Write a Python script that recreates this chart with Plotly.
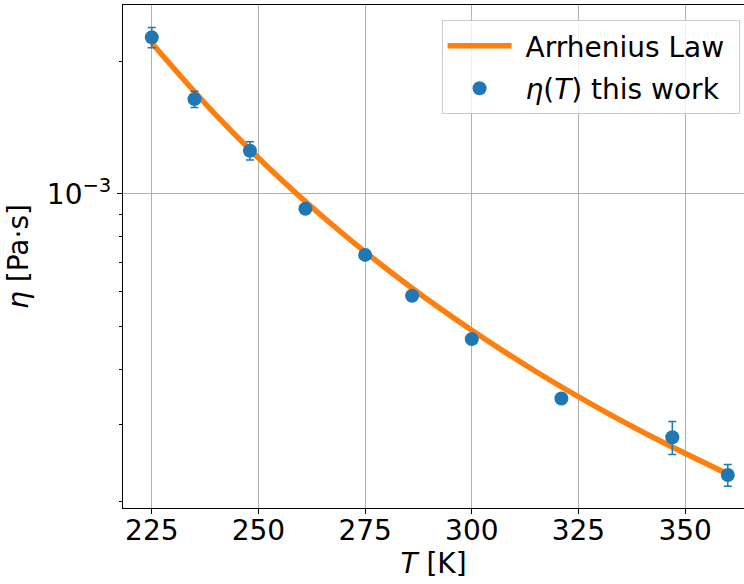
import plotly.graph_objects as go

# measured data
T_data = [225, 235, 248, 261, 275, 286, 300, 321, 347, 360]
eta_data = [2.270e-3, 1.643e-3, 1.254e-3, 9.26e-4, 7.27e-4, 5.87e-4, 4.68e-4, 3.43e-4, 2.80e-4, 2.298e-4]
eta_err = [1.2e-4, 7e-5, 6e-5, 2e-5, 1.5e-5, 1e-5, 1e-5, 8e-6, 2.4e-5, 1.3e-5]

# Arrhenius law curve
T_fit = [225, 240, 255, 270, 285, 300, 315, 330, 345, 360]
eta_fit = [2.204e-3, 1.513e-3, 1.086e-3, 8.09e-4, 6.21e-4, 4.90e-4, 3.95e-4, 3.25e-4, 2.72e-4, 2.31e-4]

x_ticks = [225, 250, 275, 300, 325, 350]
y_major = [1e-3]
y_major_text = ["10<sup>−3</sup>"]
y_minor = [2e-4, 3e-4, 4e-4, 5e-4, 6e-4, 7e-4, 8e-4, 9e-4, 2e-3]

BLUE = "#1f77b4"
ORANGE = "#ff7f0e"
FONT = "DejaVu Sans"
FS = 28
NB = "\u00a0"

fig = go.Figure()
fig.add_trace(go.Scatter(
    x=T_fit, y=eta_fit, mode="lines", name=NB + "Arrhenius Law" + NB,
    legendgroup="a",
    line=dict(color=ORANGE, width=5.5, shape="spline"),
))
fig.add_trace(go.Scatter(
    x=T_data, y=eta_data, mode="markers", name=NB + "<i>η</i>(<i>T</i>) this work",
    legendgroup="b",
    marker=dict(color=BLUE, size=14),
    error_y=dict(type="data", array=eta_err, visible=True, color=BLUE, thickness=1.5, width=4),
))

fig.update_layout(
    width=744, height=584,
    margin=dict(l=123, r=0, t=5, b=76, autoexpand=False),
    paper_bgcolor="white", plot_bgcolor="white",
    font=dict(family=FONT, size=FS, color="black"),
    showlegend=True,
    legend=dict(
        x=0.513, y=0.97, xanchor="left", yanchor="top",
        bgcolor="rgba(255,255,255,0.8)", bordercolor="#cccccc", borderwidth=1,
        font=dict(family=FONT, size=FS, color="black"),
        itemwidth=64, tracegroupgap=3,
    ),
)
fig.update_xaxes(
    range=[218.25, 363.8], tickmode="array", tickvals=x_ticks, automargin=False,
    ticks="outside", ticklen=5, tickwidth=1.1, tickcolor="black",
    ticklabelstandoff=-8,
    showline=True, linecolor="black", linewidth=1.1, mirror=True,
    showgrid=True, gridcolor="#b0b0b0", gridwidth=1.1, zeroline=False,
    tickfont=dict(family=FONT, size=FS, color="black"),
    title=dict(text="<i>T</i> [K]", font=dict(family=FONT, size=FS, color="black"), standoff=0),
)
fig.update_yaxes(
    type="log", range=[-3.7136, -2.5705], automargin=False,
    tickmode="array", tickvals=y_major, ticktext=y_major_text,
    ticks="outside", ticklen=5, tickwidth=1.1, tickcolor="black",
    showline=True, linecolor="black", linewidth=1.1, mirror=False,
    showgrid=True, gridcolor="#b0b0b0", gridwidth=1.1, zeroline=False,
    tickfont=dict(family=FONT, size=FS, color="black"),
    minor=dict(tickmode="array", tickvals=y_minor, ticks="outside", ticklen=3,
               tickwidth=0.8, tickcolor="black", showgrid=False),
    title=dict(text="<i>η</i> [Pa·s]", font=dict(family=FONT, size=FS, color="black"), standoff=10),
)

fig.write_html("out.html", config={"displayModeBar": False},
               post_script="document.body.style.margin='0';")
